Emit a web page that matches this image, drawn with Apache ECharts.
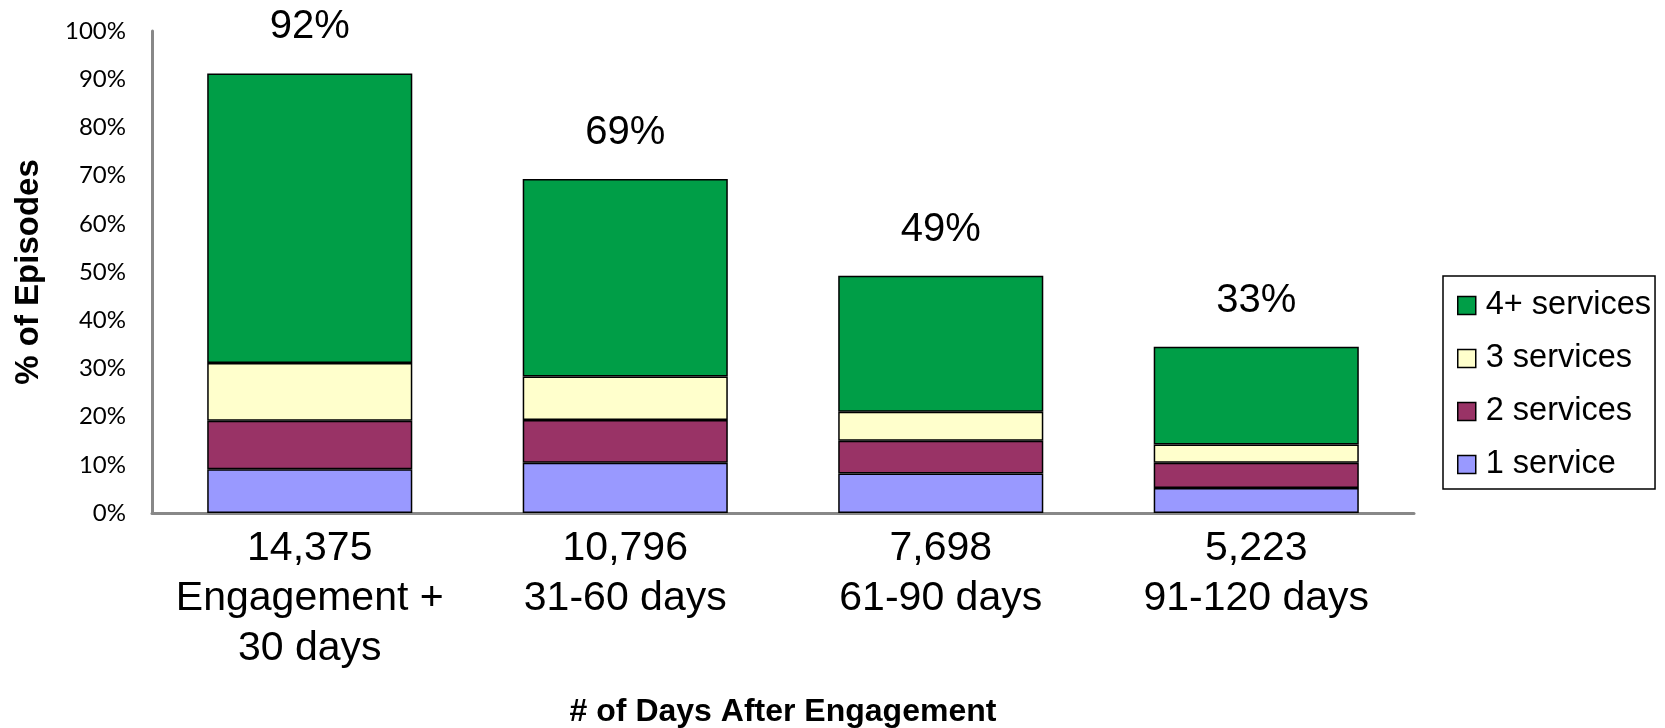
<!DOCTYPE html>
<html>
<head>
<meta charset="utf-8">
<script src="https://cdn.jsdelivr.net/npm/echarts@6/dist/echarts.min.js"></script>
<style>
html,body{margin:0;padding:0;background:#fff;}
#chart{width:1665px;height:728px;}
</style>
</head>
<body>
<div id="chart"></div>
<script>
const categories = ["14,375\nEngagement +\n30 days", "10,796\n31-60 days", "7,698\n61-90 days", "5,223\n91-120 days"];
const oneService = [9.1, 10.4, 8.2, 5.2];
const twoServices = [10.05, 8.9, 6.8, 5.2];
const threeServices = [11.95, 9.0, 6.0, 3.8];
const fourPlusServices = [60.1, 41.0, 28.2, 20.3];
const totalLabels = ["92%", "69%", "49%", "33%"];
const yTicks = [0, 10, 20, 30, 40, 50, 60, 70, 80, 90, 100];
const seriesNames = ["1 service", "2 services", "3 services", "4+ services"];
const legendOrder = ["4+ services", "3 services", "2 services", "1 service"];
const colors = ["#9999FF", "#993366", "#FFFFCC", "#009E47"];

const chart = echarts.init(document.getElementById('chart'), null, {renderer: 'canvas'});
const values = [oneService, twoServices, threeServices, fourPlusServices];
const FONT = '"Liberation Sans", Arial, sans-serif';

const series = values.map((arr, i) => ({
  name: seriesNames[i],
  type: 'bar',
  stack: 'total',
  barWidth: '65%',
  data: arr,
  itemStyle: { color: colors[i], borderColor: '#000', borderWidth: 1.5 },
  label: i === 3 ? {
    show: true,
    position: 'top',
    distance: 26,
    formatter: p => totalLabels[p.dataIndex],
    fontFamily: FONT,
    fontSize: 40,
    color: '#000'
  } : { show: false },
  emphasis: { disabled: true }
}));

chart.setOption({
  animation: false,
  backgroundColor: '#fff',
  grid: { left: 152, right: 251, top: 31, bottom: 215, containLabel: false, outerBoundsMode: 'none' },
  legend: {
    orient: 'vertical',
    left: 1443,
    top: 276,
    data: legendOrder,
    itemWidth: 18,
    itemHeight: 18,
    itemGap: 20,
    itemStyle: { borderColor: '#000', borderWidth: 1.5 },
    textStyle: { fontFamily: FONT, fontSize: 32.5, lineHeight: 32, color: '#000', padding: [0, 0, 0, 5] },
    padding: [13, 4, 8, 14],
    borderColor: '#000',
    borderWidth: 1.5,
    icon: 'rect'
  },
  xAxis: {
    type: 'category',
    data: categories,
    axisLine: { show: true, lineStyle: { color: '#888', width: 3 } },
    axisTick: { show: false },
    axisLabel: { interval: 0, fontFamily: FONT, fontSize: 41, lineHeight: 50, color: '#000', margin: 11 },
    name: '# of Days After Engagement',
    nameLocation: 'middle',
    nameGap: 183,
    nameTextStyle: { fontFamily: FONT, fontSize: 32, fontWeight: 'bold', color: '#000' }
  },
  yAxis: {
    type: 'value',
    min: yTicks[0],
    max: yTicks[yTicks.length - 1],
    interval: 10,
    axisLine: { show: true, lineStyle: { color: '#888', width: 3 } },
    axisTick: { show: false },
    splitLine: { show: false },
    axisLabel: { formatter: '{value}%', fontFamily: 'Lato, "Open Sans", sans-serif', fontSize: 24, color: '#000', margin: 26, padding: [4, 0, 0, 0] },
    name: '% of Episodes',
    nameLocation: 'middle',
    nameGap: 107,
    nameRotate: 90,
    nameTextStyle: { fontFamily: FONT, fontSize: 33, fontWeight: 'bold', color: '#000' }
  },
  series: series
});
</script>
</body>
</html>
